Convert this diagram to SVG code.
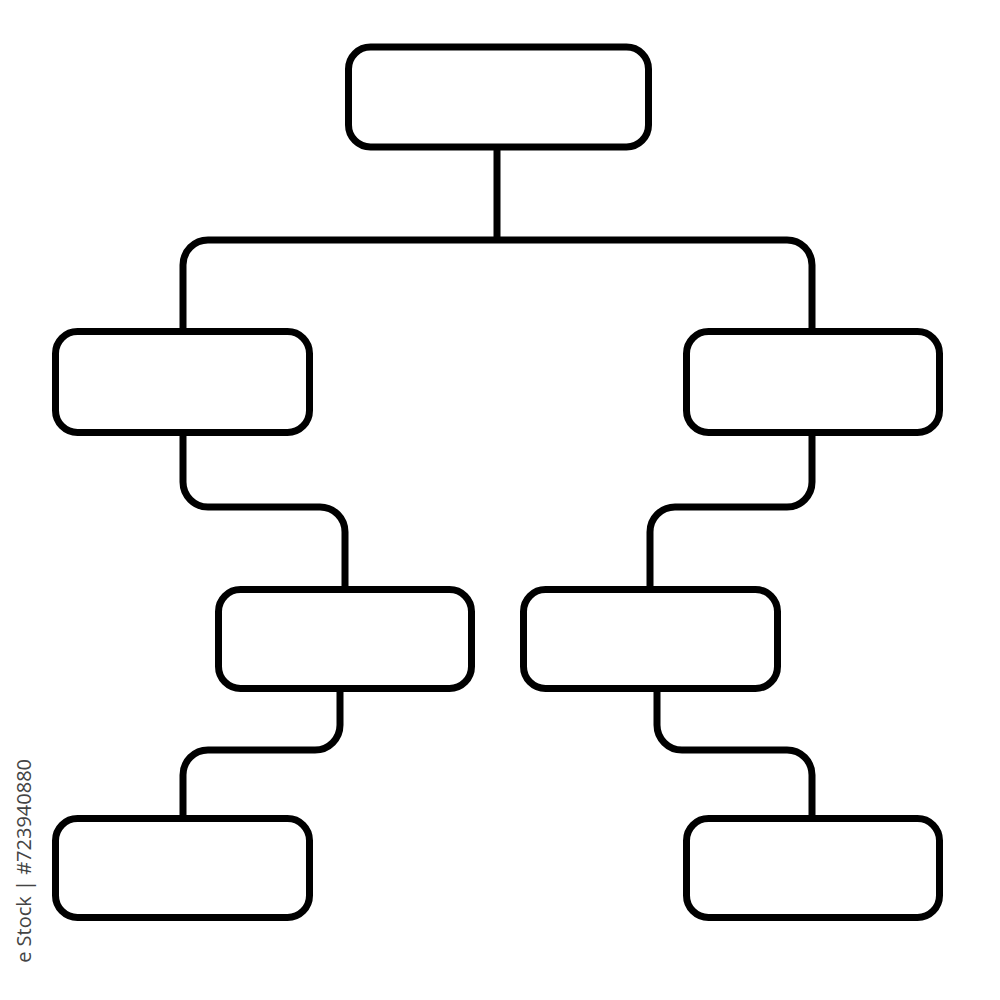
<svg xmlns="http://www.w3.org/2000/svg" width="1000" height="1000" viewBox="0 0 1000 1000">
<style>
.node{fill:#fff;stroke:#000;stroke-width:7}
.conn{fill:none;stroke:#000;stroke-width:7;stroke-linecap:butt}
.wm{font-family:"Open Sans","Liberation Sans",sans-serif;font-size:20px;fill:#444;text-anchor:end}
</style>
<rect width="1000" height="1000" fill="#fff"/>
<g id="connectors" class="conn">
<path d="M497,150 V240"/>
<path d="M183,332 V265 A25,25 0 0 1 208,240 H787 A25,25 0 0 1 812,265 V332"/>
<path d="M183,434 V482 A25,25 0 0 0 208,507 H320 A25,25 0 0 1 345,532 V590"/>
<path d="M812,434 V482 A25,25 0 0 1 787,507 H675 A25,25 0 0 0 650,532 V590"/>
<path d="M340,690 V725 A25,25 0 0 1 315,750 H208 A25,25 0 0 0 183,775 V819"/>
<path d="M657,690 V725 A25,25 0 0 0 682,750 H787 A25,25 0 0 1 812,775 V819"/>
</g>
<g id="node-top"><rect class="node" x="348.5" y="47" width="300" height="100" rx="22"/></g>
<g id="node-mid-left"><rect class="node" x="55.5" y="331.5" width="254" height="101" rx="22"/></g>
<g id="node-mid-right"><rect class="node" x="686.5" y="331.5" width="253" height="101" rx="22"/></g>
<g id="node-low-left"><rect class="node" x="218.5" y="589.5" width="253" height="99" rx="22"/></g>
<g id="node-low-right"><rect class="node" x="523.5" y="589.5" width="254" height="99" rx="22"/></g>
<g id="node-bottom-left"><rect class="node" x="55.5" y="818.5" width="254" height="99" rx="22"/></g>
<g id="node-bottom-right"><rect class="node" x="686.5" y="818.5" width="253" height="99" rx="22"/></g>
<text class="wm" transform="translate(31,759) rotate(-90)">e Stock | #723940880</text>
</svg>
